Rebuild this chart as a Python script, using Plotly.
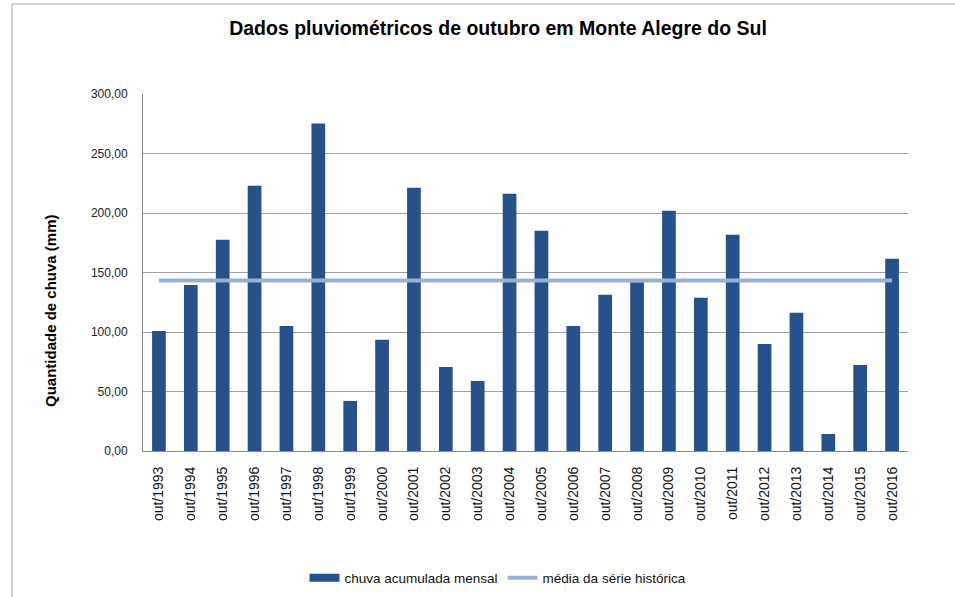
import plotly.graph_objects as go

years = [str(y) for y in range(1993, 2017)]
categories = ["out/" + y for y in years]
chuva = [100.9, 139.6, 177.5, 222.9, 105.1, 275.3, 42.1, 93.4, 221.2, 70.6, 58.9, 216.2,
         185.0, 105.1, 131.2, 141.9, 201.9, 128.7, 181.7, 90.0, 116.1, 14.3, 72.3, 161.5]
media_valor = 143.3
media = [media_valor] * len(categories)
y_ticks = [0, 50, 100, 150, 200, 250, 300]

BAR_COLOR = "#26518A"
LINE_COLOR = "#95B1D6"

W, H = 955, 597
L, R, T, B = 143, 47, 94, 146
pw, ph = W - L - R, H - T - B

fig = go.Figure()
fig.add_trace(go.Bar(
    x=categories, y=chuva, name="chuva acumulada mensal",
    marker=dict(color=BAR_COLOR, line=dict(width=0)),
    showlegend=False, legendgroup="chuva",
))
fig.add_trace(go.Scatter(
    x=categories, y=media, name="média da série histórica", mode="lines",
    line=dict(color=LINE_COLOR, width=4), showlegend=False,
))
# legend entries (Excel-style wide rectangle for the bar series)
fig.add_trace(go.Scatter(
    x=[None], y=[None], name="chuva acumulada mensal", mode="lines",
    line=dict(color=BAR_COLOR, width=8), legendgroup="chuva",
))
fig.add_trace(go.Scatter(
    x=[None], y=[None], name="média da série histórica", mode="lines",
    line=dict(color=LINE_COLOR, width=4),
))


def px_x(p):
    return (p - L) / pw


def px_y(p):
    return (H - B - p) / ph


fig.add_shape(type="line", xref="paper", yref="paper",
              x0=px_x(12), x1=px_x(12), y0=px_y(4), y1=px_y(620),
              line=dict(color="#A6A6A6", width=1))
fig.add_shape(type="line", xref="paper", yref="paper",
              x0=px_x(12), x1=px_x(980), y0=px_y(4), y1=px_y(4),
              line=dict(color="#A6A6A6", width=1))

fig.add_annotation(
    text="<b>Quantidade de chuva (mm)</b>", textangle=-90, showarrow=False,
    xref="paper", yref="paper", x=px_x(50), y=px_y(311),
    xanchor="center", yanchor="middle",
    font=dict(family="Liberation Sans", size=15, color="#000000"),
)

fig.update_layout(
    width=W, height=H,
    margin=dict(l=L, r=R, t=T, b=B, autoexpand=False),
    paper_bgcolor="white", plot_bgcolor="white",
    separators=",.",
    bargap=0.57,
    font=dict(family="Liberation Sans", color="#000000", size=12),
    title=dict(text="<b>Dados pluviométricos de outubro em Monte Alegre do Sul</b>",
               x=498 / W, xanchor="center", y=1 - 28 / H, yanchor="middle",
               font=dict(family="Liberation Sans", size=19.5, color="#000000")),
    xaxis=dict(
        type="category", tickangle=-90, showgrid=False,
        showline=True, linecolor="#8C8C8C", linewidth=1,
        ticks="outside", ticklen=9, tickcolor="rgba(0,0,0,0)",
        tickfont=dict(family="Liberation Sans", size=14, color="#111111"),
        automargin=False,
    ),
    yaxis=dict(
        range=[0, 300], tickvals=y_ticks, tickformat=".2f",
        showgrid=True, gridcolor="#A0A0A0", gridwidth=1,
        showline=True, linecolor="#8C8C8C", linewidth=1,
        ticks="outside", ticklen=12, tickcolor="rgba(0,0,0,0)",
        tickfont=dict(family="Liberation Sans", size=12, color="#222222"),
        zeroline=False, automargin=False,
    ),
    legend=dict(orientation="h", x=px_x(498), xanchor="center",
                y=px_y(578), yanchor="middle",
                font=dict(family="Liberation Sans", size=13.5, color="#111111"),
                itemwidth=30, traceorder="normal"),
    showlegend=True,
)

fig.write_html("out.html", config={"displayModeBar": False},
               post_script="document.body.style.margin='0';")
